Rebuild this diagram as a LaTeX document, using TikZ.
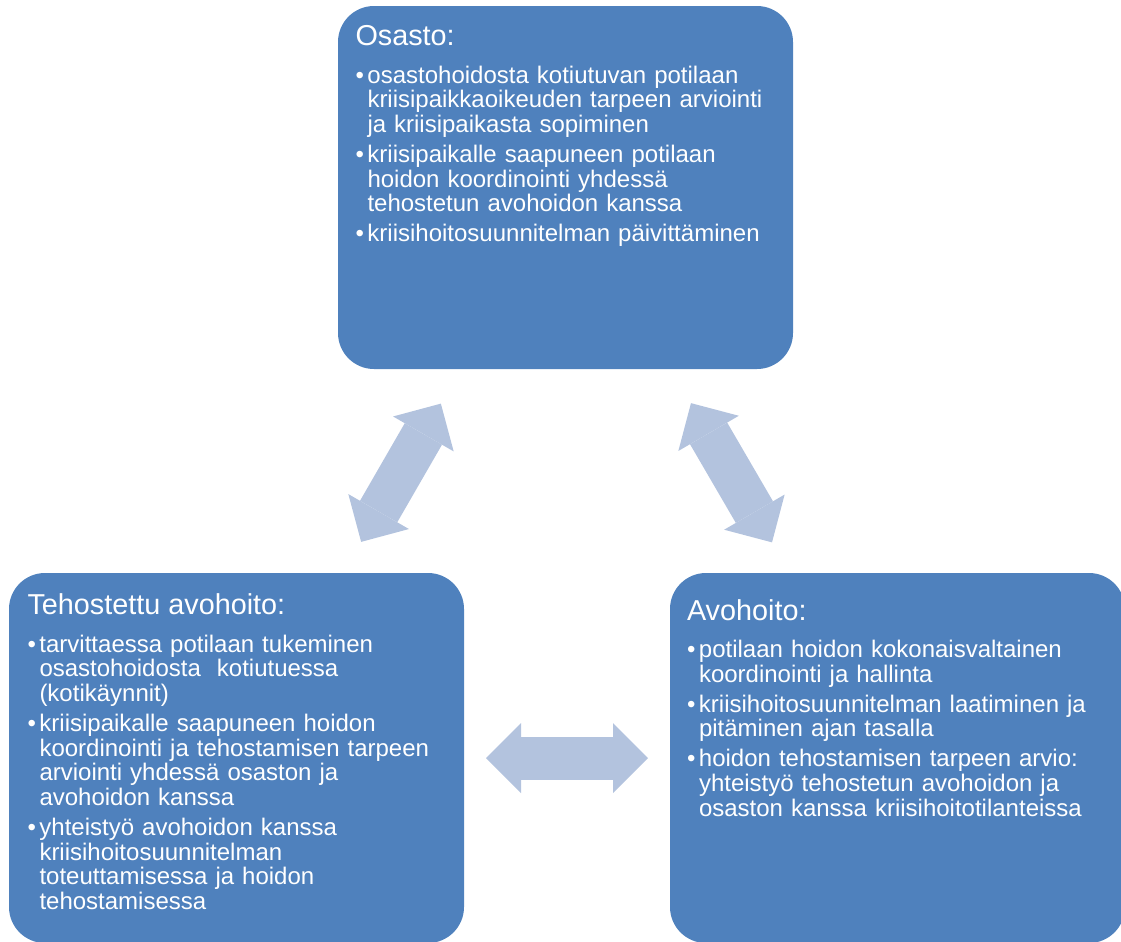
\documentclass[tikz,border=0pt]{standalone}
\usepackage{fontspec}
\setmainfont{Liberation Sans}
\usepackage{xcolor}
\usepackage{tikz}
\usetikzlibrary{arrows.meta, positioning}

\definecolor{panelblue}{RGB}{79,129,189}
\definecolor{linkblue}{RGB}{179,195,222}

\newcommand{\head}[1]{{\fontsize{14.4}{16}\selectfont #1}\par\vspace{6.35pt}}
\newcommand{\bul}[1]{\par\hangindent=6pt\hangafter=1\noindent\makebox[6pt][l]{\textbullet}#1\par\vspace{2.4pt}}

\begin{document}
\begin{tikzpicture}[
        x=0.5pt, y=-0.5pt,
        panel/.style={rectangle, fill=panelblue, minimum width=227.5pt, rounded corners=18pt, inner sep=0pt},
        body/.style={anchor=base west, inner sep=0pt, text=white, text width=215pt, align=left, font=\fontsize{12}{12.4}\selectfont},
        link/.style={<->, >={Triangle[length=17.5pt, width=35pt, line width=0pt]}, draw=linkblue, line width=21.5pt, shorten <=124.75pt, shorten >=124.75pt}
    ]
        \useasboundingbox (0,0) rectangle (1121,942);

        \node[panel, minimum height=181.5pt] (osasto) at (565.5,187.5) {};
        \node[panel, minimum height=185pt] (teho) at (236.5,758) {};
        \node[panel, minimum height=185pt] (avo) at (897.5,758) {};

        \node[body] (osasto-txt) at ([shift={(17.5,40)}]osasto.north west) {%
            \head{Osasto:}
            \bul{osastohoidosta kotiutuvan potilaan\newline kriisipaikkaoikeuden tarpeen arviointi\newline ja kriisipaikasta sopiminen}
            \bul{kriisipaikalle saapuneen potilaan\newline hoidon koordinointi yhdessä\newline tehostetun avohoidon kanssa}
            \bul{kriisihoitosuunnitelman päivittäminen}};
        \node[body] (teho-txt) at ([shift={(18.5,42)}]teho.north west) {%
            \head{Tehostettu avohoito:}
            \bul{tarvittaessa potilaan tukeminen\newline osastohoidosta\ \ kotiutuessa\newline (kotikäynnit)}
            \bul{kriisipaikalle saapuneen hoidon\newline koordinointi ja tehostamisen tarpeen\newline arviointi yhdessä osaston ja\newline avohoidon kanssa}
            \bul{yhteistyö avohoidon kanssa\newline kriisihoitosuunnitelman\newline toteuttamisessa ja hoidon\newline tehostamisessa}};
        \node[body] (avo-txt) at ([shift={(17,47.5)}]avo.north west) {%
            \head{Avohoito:}
            \bul{potilaan hoidon kokonaisvaltainen\newline koordinointi ja hallinta}
            \bul{kriisihoitosuunnitelman laatiminen ja\newline pitäminen ajan tasalla}
            \bul{hoidon tehostamisen tarpeen arvio:\newline yhteistyö tehostetun avohoidon ja\newline osaston kanssa kriisihoitotilanteissa}};

        \draw[link] (teho.center) -- (osasto.center);
        \draw[link] (osasto.center) -- (avo.center);
        \draw[link] (teho.center) -- (avo.center);
    \end{tikzpicture}
\end{document}
